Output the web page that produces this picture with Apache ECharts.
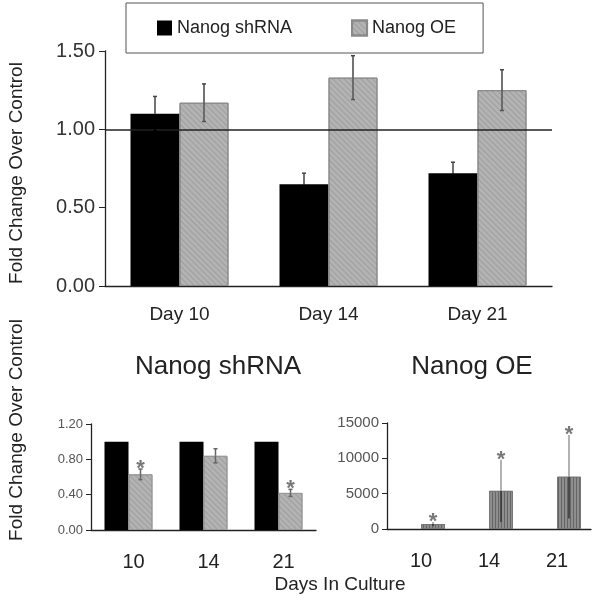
<!DOCTYPE html>
<html><head><meta charset="utf-8">
<script src="https://cdn.jsdelivr.net/npm/echarts@6/dist/echarts.min.js"></script>
<style>html,body{margin:0;padding:0;background:#fff}#c{width:595px;height:600px}</style>
</head><body><div id="c"></div>
<script>
// ---- data ----
const topCategories = ['Day 10', 'Day 14', 'Day 21'];
const topShRNA = [1.10, 0.65, 0.72];
const topShRNAErr = [0.11, 0.07, 0.07];
const topOE = [1.17, 1.33, 1.25];
const topOEErr = [0.12, 0.14, 0.13];
const topYMax = 1.5;
const topYInterval = 0.5;
const referenceLine = 1.0;

const dayCategories = ['10', '14', '21'];
const shControl = [1, 1, 1];
const shValues = [0.63, 0.84, 0.42];
const shErr = [0.06, 0.08, 0.04];
const shSig = [true, false, true];
const shYMax = 1.2;
const shYInterval = 0.4;

const oeControl = [1, 1, 1];
const oeValues = [700, 5400, 7400];
const oeErr = [300, 4400, 5900];
const oeSig = [true, true, true];
const oeYMax = 15000;
const oeYInterval = 5000;

const FONT = 'Liberation Sans, Arial, sans-serif';

function errSeries(xi, yi, vals, errs, offset, colors, sig, capW) {
  return {
    type: 'custom', xAxisIndex: xi, yAxisIndex: yi, z: 10, silent: true,
    encode: { x: 0, y: [1, 2, 3] },
    data: vals.map((v, i) => [i, v, v - errs[i], v + errs[i], sig && sig[i] ? 1 : 0]),
    renderItem(params, api) {
      const x = api.coord([api.value(0), 0])[0] + offset;
      const yv = api.coord([api.value(0), api.value(1)])[1];
      const yl = api.coord([api.value(0), api.value(2)])[1];
      const yh = api.coord([api.value(0), api.value(3)])[1];
      const children = [
        { type: 'line', shape: { x1: x, y1: yl, x2: x, y2: yv }, style: { stroke: colors.inner, lineWidth: 1.5 } },
        { type: 'line', shape: { x1: x, y1: yv, x2: x, y2: yh }, style: { stroke: colors.outer, lineWidth: 1.5 } },
        { type: 'line', shape: { x1: x - capW, y1: yh, x2: x + capW, y2: yh }, style: { stroke: colors.outer, lineWidth: 1.5 } },
        { type: 'line', shape: { x1: x - capW, y1: yl, x2: x + capW, y2: yl }, style: { stroke: colors.inner, lineWidth: 1.5 } }
      ];
      if (api.value(4)) {
        children.push({ type: 'text', x: x, y: yh - 11, style: { text: '*', font: 'bold 22px ' + FONT, fill: '#777', align: 'center', verticalAlign: 'top' } });
      }
      return { type: 'group', children };
    }
  };
}

const axisLineStyle = { lineStyle: { color: '#222', width: 1.3 } };
const diagDecal = { symbol: 'rect', symbolSize: 1, dashArrayX: [[1, 0]], dashArrayY: [1, 3], rotation: Math.PI / 4, color: 'rgba(0,0,0,0.12)' };
const vertDecal = { symbol: 'rect', symbolSize: 1, dashArrayX: [[1, 2]], dashArrayY: [1, 0], rotation: 0, color: 'rgba(0,0,0,0.28)' };

const chart = echarts.init(document.getElementById('c'), null, { renderer: 'canvas' });
chart.setOption({
  animation: false,
  backgroundColor: '#fff',
  textStyle: { fontFamily: FONT },
  legend: {
    left: 126, top: 3,
    padding: [16, 27, 16, 31],
    itemGap: 59, itemWidth: 15, itemHeight: 15,
    icon: 'rect',
    borderColor: '#555', borderWidth: 1,
    textStyle: { fontSize: 18, color: '#222', fontFamily: FONT },
    data: ['Nanog shRNA', 'Nanog OE']
  },
  grid: [
    { left: 105, top: 51, width: 447, height: 235 },
    { left: 91, top: 424, width: 225, height: 106 },
    { left: 387, top: 423, width: 204, height: 106 }
  ],
  xAxis: [
    { type: 'category', gridIndex: 0, data: topCategories, axisLine: axisLineStyle,
      axisTick: { length: 5, lineStyle: { color: '#222' } },
      axisLabel: { fontSize: 19, color: '#222', margin: 19, fontFamily: FONT } },
    { type: 'category', gridIndex: 1, data: dayCategories, axisLine: axisLineStyle,
      axisTick: { length: 3, lineStyle: { color: '#444' } },
      axisLabel: { fontSize: 20, color: '#222', margin: 22, padding: [0, 0, 0, 10], fontFamily: FONT } },
    { type: 'category', gridIndex: 2, data: dayCategories, axisLine: axisLineStyle,
      axisTick: { length: 3, lineStyle: { color: '#444' } },
      axisLabel: { fontSize: 20, color: '#222', margin: 22, fontFamily: FONT } }
  ],
  yAxis: [
    { type: 'value', gridIndex: 0, min: 0, max: topYMax, interval: topYInterval,
      axisLine: { show: true, ...axisLineStyle }, axisTick: { show: true, length: 6, lineStyle: { color: '#222' } },
      splitLine: { show: false },
      axisLabel: { fontSize: 20, color: '#333', margin: 10, formatter: v => v.toFixed(2), fontFamily: FONT } },
    { type: 'value', gridIndex: 1, min: 0, max: shYMax, interval: shYInterval,
      axisLine: { show: true, ...axisLineStyle }, axisTick: { show: true, length: 5, lineStyle: { color: '#222' } },
      splitLine: { show: false },
      axisLabel: { fontSize: 13, color: '#555', margin: 8, formatter: v => v.toFixed(2), fontFamily: FONT } },
    { type: 'value', gridIndex: 2, min: 0, max: oeYMax, interval: oeYInterval,
      axisLine: { show: true, ...axisLineStyle }, axisTick: { show: true, length: 5, lineStyle: { color: '#222' } },
      splitLine: { show: false },
      axisLabel: { fontSize: 15, color: '#555', margin: 8, formatter: v => String(v), fontFamily: FONT } }
  ],
  graphic: [
    { type: 'text', x: 17, y: 173, rotation: Math.PI / 2, style: { text: 'Fold Change Over Control', font: '19px ' + FONT, fill: '#222', align: 'center', verticalAlign: 'middle' } },
    { type: 'text', x: 17, y: 430, rotation: Math.PI / 2, style: { text: 'Fold Change Over Control', font: '19px ' + FONT, fill: '#222', align: 'center', verticalAlign: 'middle' } },
    { type: 'text', x: 218, y: 367, style: { text: 'Nanog shRNA', font: '26px ' + FONT, fill: '#222', align: 'center', verticalAlign: 'middle' } },
    { type: 'text', x: 472, y: 367, style: { text: 'Nanog OE', font: '26px ' + FONT, fill: '#222', align: 'center', verticalAlign: 'middle' } },
    { type: 'text', x: 340, y: 585, style: { text: 'Days In Culture', font: '19px ' + FONT, fill: '#222', align: 'center', verticalAlign: 'middle' } }
  ],
  series: [
    { name: 'Nanog shRNA', type: 'bar', xAxisIndex: 0, yAxisIndex: 0, data: topShRNA, barWidth: 49, barGap: '0%',
      itemStyle: { color: '#000' },
      markLine: { silent: true, symbol: 'none', label: { show: false }, lineStyle: { color: '#222', width: 1.5, type: 'solid' },
        data: [{ yAxis: referenceLine }] } },
    { name: 'Nanog OE', type: 'bar', xAxisIndex: 0, yAxisIndex: 0, data: topOE, barWidth: 49, barGap: '0%',
      itemStyle: { color: '#b3b3b3', borderColor: '#8a8a8a', borderWidth: 1, decal: diagDecal } },
    errSeries(0, 0, topShRNA, topShRNAErr, -24.5, { inner: '#000', outer: '#444' }, null, 2),
    errSeries(0, 0, topOE, topOEErr, 24.5, { inner: '#555', outer: '#444' }, null, 2),

    { name: 'Control', type: 'bar', xAxisIndex: 1, yAxisIndex: 1, data: shControl, barWidth: 24, barGap: '0%',
      itemStyle: { color: '#000' } },
    { name: 'shRNA', type: 'bar', xAxisIndex: 1, yAxisIndex: 1, data: shValues, barWidth: 24, barGap: '0%',
      itemStyle: { color: '#b3b3b3', borderColor: '#999', borderWidth: 1, decal: diagDecal } },
    errSeries(1, 1, shValues, shErr, 12, { inner: '#666', outer: '#666' }, shSig, 2),

    { name: 'Control OE', type: 'bar', xAxisIndex: 2, yAxisIndex: 2, data: oeControl, barWidth: 24, barGap: '0%',
      itemStyle: { color: '#000' } },
    { name: 'OE', type: 'bar', xAxisIndex: 2, yAxisIndex: 2, data: oeValues, barWidth: 24, barGap: '0%',
      itemStyle: { color: '#8e8e8e', borderColor: '#777', borderWidth: 1, decal: vertDecal } },
    errSeries(2, 2, oeValues, oeErr, 12, { inner: '#333', outer: '#999' }, oeSig, 0)
  ]
});
</script>
</body></html>
